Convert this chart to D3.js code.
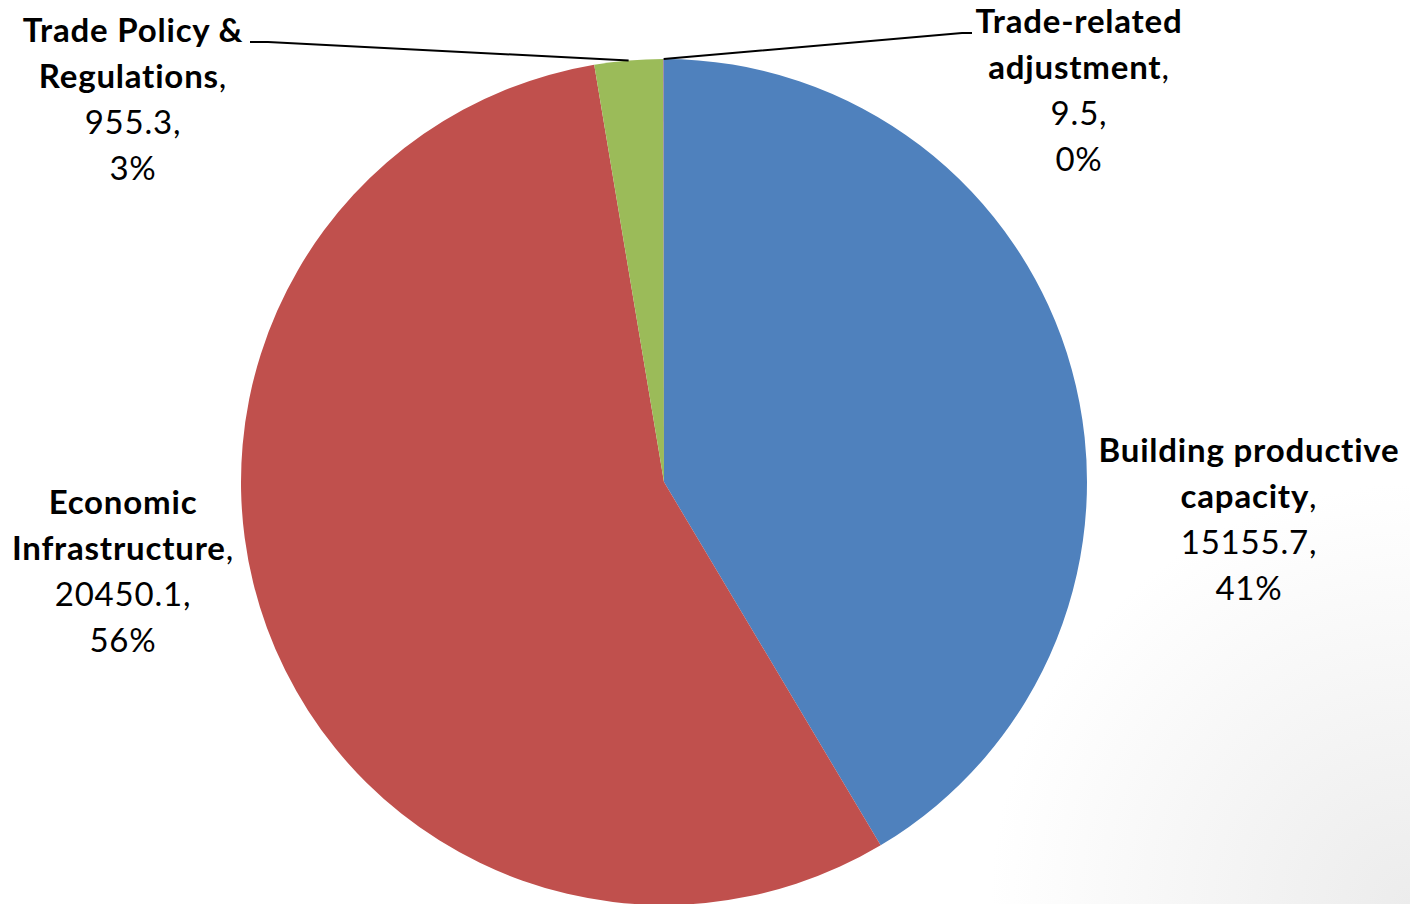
<!DOCTYPE html>
<html>
<head>
<meta charset="utf-8">
<style>
  body { margin: 0; background: #fff; }
  .lbl { font-family: Lato, "Open Sans", sans-serif; font-size: 33px; letter-spacing: 0.8px; fill: #000; text-anchor: middle; }
  .lbl .name { font-weight: bold; }
  .leader { fill: none; stroke: #000; stroke-width: 2; }
</style>
</head>
<body>
<svg width="1410" height="904"></svg>
<script src="https://cdn.jsdelivr.net/npm/d3@7"></script>
<script>
// data
var categories = ["Building productive capacity", "Economic Infrastructure", "Trade Policy & Regulations", "Trade-related adjustment"];
var values = [15155.7, 20450.1, 955.3, 9.5];
var colors = ["#4F81BD", "#C0504D", "#9BBB59", "#8064A2"];

// label layout: name split into lines, centre x, first baseline, leader line points
var nameLines = [["Building productive", "capacity"], ["Economic", "Infrastructure"], ["Trade Policy &", "Regulations"], ["Trade-related", "adjustment"]];
var labelPos = [[1249, 462], [123, 514], [133, 42], [1079, 33]];
var leaderEnds = [null, null, [[268, 42], [250, 42]], [[962, 33], [972, 33]]];

var svg = d3.select("svg"),
    width = +svg.attr("width"),
    height = +svg.attr("height");

var cx = 664, cy = 482, radius = 423, lineH = 46;

// faint grey vignette in the bottom-right corner
var defs = svg.append("defs");
var grad = defs.append("radialGradient")
    .attr("id", "corner")
    .attr("gradientUnits", "userSpaceOnUse")
    .attr("cx", width).attr("cy", height).attr("r", 420);
grad.append("stop").attr("offset", "0%").attr("stop-color", "#ececec");
grad.append("stop").attr("offset", "100%").attr("stop-color", "#fff");
svg.append("rect").attr("width", width).attr("height", height).attr("fill", "url(#corner)");

var total = d3.sum(values);
var pct = d3.format(".0%");

var pie = d3.pie().sort(null).value(function(d) { return d; });
var arcs = pie(values);

var arc = d3.arc().innerRadius(0).outerRadius(radius);
var edge = d3.arc().innerRadius(radius).outerRadius(radius);

var g = svg.append("g").attr("transform", "translate(" + cx + "," + cy + ")");

g.selectAll("path.slice")
  .data(arcs)
  .enter().append("path")
    .attr("class", "slice")
    .attr("fill", function(d, i) { return colors[i]; })
    .attr("d", arc);

// leader lines for the thin slices
arcs.forEach(function(d, i) {
  if (!leaderEnds[i]) return;
  var p = edge.centroid(d);
  var pts = [[cx + p[0], cy + p[1]]].concat(leaderEnds[i]);
  svg.append("path")
    .attr("class", "leader")
    .attr("d", d3.line()(pts));
});

// labels
arcs.forEach(function(d, i) {
  var t = svg.append("text")
      .attr("class", "lbl")
      .attr("x", labelPos[i][0])
      .attr("y", labelPos[i][1]);
  var lines = nameLines[i];
  lines.forEach(function(s, j) {
    var ts = t.append("tspan")
        .attr("x", labelPos[i][0])
        .attr("dy", j === 0 ? 0 : lineH);
    ts.append("tspan").attr("class", "name").text(s);
    if (j === lines.length - 1) ts.append("tspan").text(",");
  });
  t.append("tspan").attr("x", labelPos[i][0]).attr("dy", lineH).text(values[i] + ",");
  t.append("tspan").attr("x", labelPos[i][0]).attr("dy", lineH).text(pct(values[i] / total));
});
</script>
</body>
</html>
